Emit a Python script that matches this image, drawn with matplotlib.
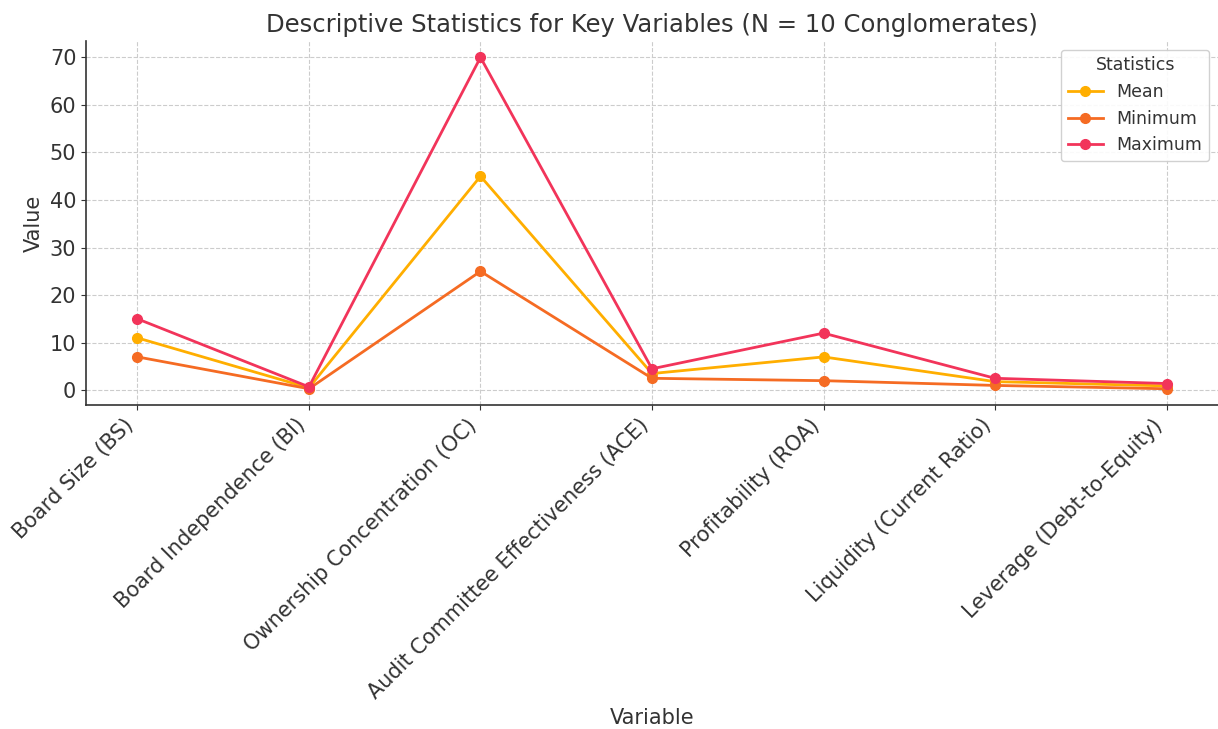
import matplotlib
matplotlib.use("Agg")
import matplotlib.pyplot as plt

# Variables and their descriptive statistics
variables = [
    "Board Size (BS)",
    "Board Independence (BI)",
    "Ownership Concentration (OC)",
    "Audit Committee Effectiveness (ACE)",
    "Profitability (ROA)",
    "Liquidity (Current Ratio)",
    "Leverage (Debt-to-Equity)",
]
mean_vals = [11, 0.5, 45, 3.5, 7, 1.8, 0.9]
min_vals = [7, 0.3, 25, 2.5, 2, 1.0, 0.3]
max_vals = [15, 0.7, 70, 4.5, 12, 2.5, 1.4]

series = [
    ("Mean", mean_vals, "#FFAE00"),
    ("Minimum", min_vals, "#F56B23"),
    ("Maximum", max_vals, "#F2345A"),
]

plt.rcParams["text.color"] = "#333333"
plt.rcParams["axes.labelcolor"] = "#333333"
plt.rcParams["xtick.color"] = "#333333"
plt.rcParams["ytick.color"] = "#333333"

fig, ax = plt.subplots(figsize=(12.18, 7.29), dpi=100)
fig.subplots_adjust(left=0.0706, right=1.0, top=0.944, bottom=0.444)

for label, vals, color in series:
    ax.plot(variables, vals, marker="o", markersize=7, linewidth=2,
            color=color, label=label)

ax.set_title("Descriptive Statistics for Key Variables (N = 10 Conglomerates)",
             fontsize=17.5)
ax.set_xlabel("Variable", fontsize=15)
ax.set_ylabel("Value", fontsize=15)
ax.tick_params(axis="both", labelsize=15)
plt.setp(ax.get_xticklabels(), rotation=45, ha="right")

ax.grid(True, linestyle="--", color="#cccccc", linewidth=0.8)
ax.set_axisbelow(True)
for side in ("top", "right"):
    ax.spines[side].set_visible(False)
for side in ("left", "bottom"):
    ax.spines[side].set_color("#333333")
    ax.spines[side].set_linewidth(1.2)

leg = ax.legend(title="Statistics", loc="upper right", fontsize=12.5,
                title_fontsize=12.5, framealpha=0.9)

fig.savefig("out.png", dpi=100)
